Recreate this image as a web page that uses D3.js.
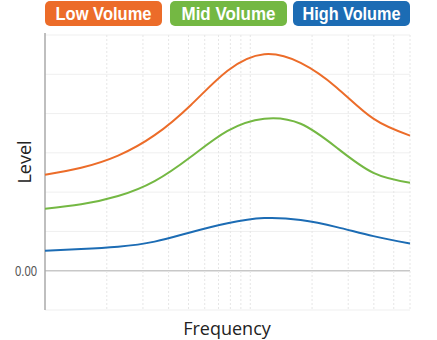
<!DOCTYPE html>
<html><head><meta charset="utf-8">
<script src="https://cdn.jsdelivr.net/npm/d3@7/dist/d3.min.js"></script>
<style>html,body{margin:0;padding:0;background:#fff;}svg{display:block;}</style>
</head><body>
<svg id="chart" width="437" height="340"></svg>
<script>
const frequencies = [1, 1.5, 2.27, 3.42, 5.14, 7.75, 11.7, 17.6, 26.4, 39.8, 60];
const lowVolume  = [2.44, 2.62, 2.93, 3.45, 4.22, 5.09, 5.51, 5.29, 4.66, 3.87, 3.44];
const midVolume  = [1.58, 1.69, 1.90, 2.28, 2.90, 3.56, 3.87, 3.74, 3.13, 2.49, 2.24];
const highVolume = [0.51, 0.55, 0.61, 0.74, 0.98, 1.21, 1.34, 1.29, 1.11, 0.88, 0.69];
const seriesNames = ["Low Volume", "Mid Volume", "High Volume"];
const seriesColors = ["#ec6c29", "#74b843", "#1c6cb4"];
const gridFreqs = [2,3,4,5,6,7,8,9,10,20,30,40,50,60];
const yTicks = [-1, 0, 1, 2, 3, 4, 5, 6];
const yLabelTicks = [0];

const svg = d3.select("#chart");
const m = {left: 45, right: 410, top: 35, bottom: 310};
const x = d3.scaleLog().domain([1, 60]).range([m.left, m.right]);
const y = d3.scaleLinear().domain([-1, 6]).range([m.bottom, m.top]);

// horizontal grid
svg.append("g").selectAll("line").data(yTicks).join("line")
  .attr("x1", m.left).attr("x2", m.right)
  .attr("y1", d => y(d)).attr("y2", d => y(d))
  .attr("stroke", d => d === 0 ? "#c8c8c8" : "#efefef")
  .attr("stroke-width", d => d === 0 ? 1.5 : 1);

// vertical grid
svg.append("g").selectAll("line").data(gridFreqs).join("line")
  .attr("x1", d => x(d)).attr("x2", d => x(d))
  .attr("y1", m.top).attr("y2", m.bottom)
  .attr("stroke", "#e6e6e6").attr("stroke-width", 1)
  .attr("stroke-dasharray", "2,2");

// y axis line
svg.append("line").attr("x1", m.left).attr("x2", m.left)
  .attr("y1", m.top - 2).attr("y2", m.bottom)
  .attr("stroke", "#aaaaaa").attr("stroke-width", 1.5);

// y tick label
svg.append("g").selectAll("text").data(yLabelTicks).join("text")
  .attr("x", 15).attr("y", d => y(d) + 5)
  .attr("font-family", "Liberation Sans, sans-serif").attr("font-size", 14)
  .attr("textLength", 22).attr("lengthAdjust", "spacingAndGlyphs")
  .attr("fill", "#555").text(d => d3.format(".2f")(d));

// lines
const allSeries = [lowVolume, midVolume, highVolume];
const line = d3.line().x((d, i) => x(frequencies[i])).y(d => y(d)).curve(d3.curveNatural);
svg.append("g").selectAll("path").data(allSeries).join("path")
  .attr("d", d => line(d)).attr("fill", "none")
  .attr("stroke", (d, i) => seriesColors[i]).attr("stroke-width", 2);

// legend
const legendX = [45, 170, 293];
const legendW = [117, 117, 117];
const textW = [96, 94, 98];
const lg = svg.append("g").selectAll("g").data(seriesNames).join("g")
  .attr("transform", (d, i) => `translate(${legendX[i]},1)`);
lg.append("rect").attr("width", (d, i) => legendW[i]).attr("height", 25)
  .attr("rx", 5).attr("fill", (d, i) => seriesColors[i]);
lg.append("text").attr("x", (d, i) => (legendW[i] - textW[i]) / 2).attr("y", 19)
  .attr("textLength", (d, i) => textW[i]).attr("lengthAdjust", "spacingAndGlyphs")
  .attr("font-family", "Liberation Sans, Arial, sans-serif")
  .attr("font-weight", "bold").attr("font-size", 19)
  .attr("fill", "#fff").text(d => d);

// axis titles
svg.append("text").attr("x", 227).attr("y", 335).attr("text-anchor", "middle")
  .attr("font-family", "Open Sans, sans-serif").attr("font-size", 18)
  .attr("fill", "#222").text("Frequency");
svg.append("text").attr("transform", "translate(31,162) rotate(-90)")
  .attr("text-anchor", "middle")
  .attr("font-family", "Open Sans, sans-serif").attr("font-size", 18)
  .attr("fill", "#222").text("Level");
</script>
</body></html>
